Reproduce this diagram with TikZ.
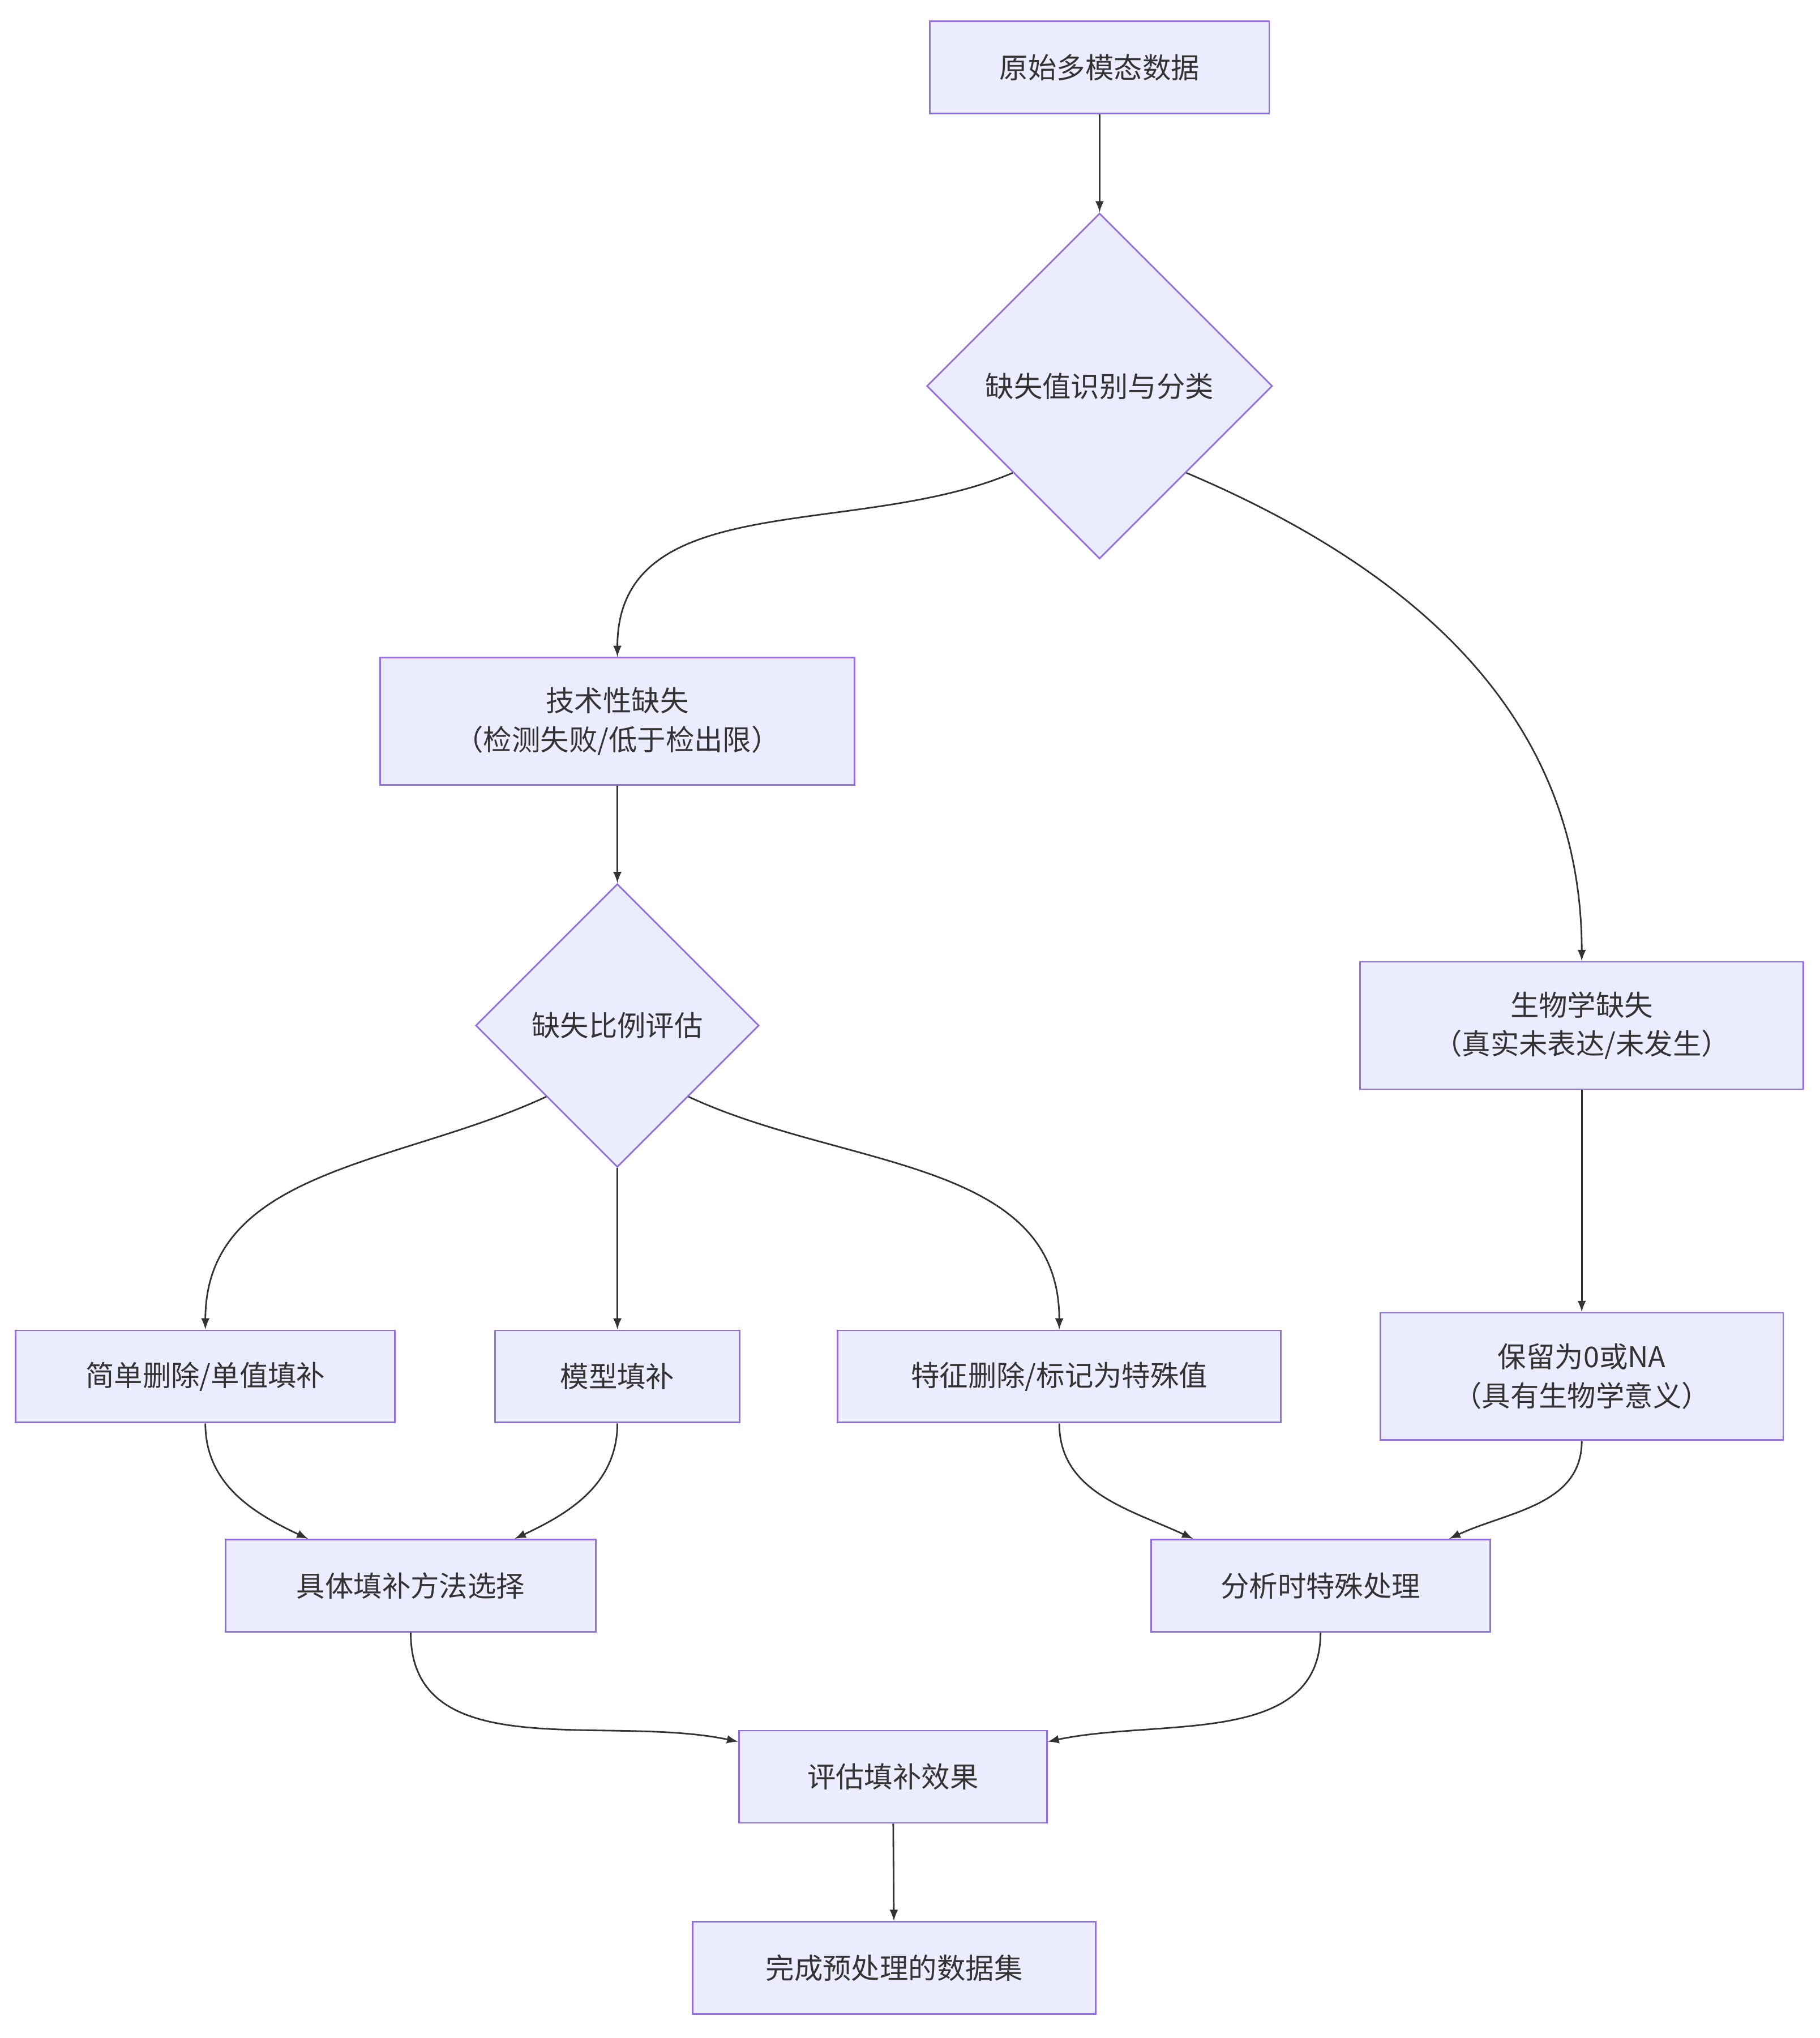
\documentclass[tikz,border=0pt]{standalone}
\usepackage{fontspec}
\setmainfont{Noto Sans CJK SC}
\usetikzlibrary{shapes.geometric}
\tikzset{
  box/.style={draw=violetline, fill=boxfill, line width=0.7pt, align=center,
    inner sep=0pt, font=\fontsize{12.5}{17}\selectfont, text=textgray},
  choice/.style={box, shape=diamond, aspect=1},
  flow/.style={-latex, draw=arrowgray, line width=0.7pt},
}
\definecolor{boxfill}{HTML}{ECECFF}
\definecolor{violetline}{HTML}{9370DB}
\definecolor{arrowgray}{HTML}{333333}
\definecolor{textgray}{HTML}{333333}

\begin{document}
\begin{tikzpicture}[x=0.02cm,y=-0.02cm]
		\useasboundingbox (0,0) rectangle (1400,1568);
		% nodes
		\node[box, minimum width=5.22cm, minimum height=1.42cm] (raw) at (846,52) {原始多模态数据};
		\node[choice, minimum width=5.32cm, minimum height=5.32cm] (classify) at (846,297) {缺失值识别与分类};
		\node[box, minimum width=7.30cm, minimum height=1.96cm] (tech) at (475,555) {技术性缺失\\（检测失败/低于检出限）};
		\node[choice, minimum width=4.36cm, minimum height=4.36cm] (ratio) at (475,789) {缺失比例评估};
		\node[box, minimum width=6.82cm, minimum height=1.96cm] (bio) at (1217,789) {生物学缺失\\（真实未表达/未发生）};
		\node[box, minimum width=5.84cm, minimum height=1.42cm] (simple) at (158,1059) {简单删除/单值填补};
		\node[box, minimum width=3.76cm, minimum height=1.42cm] (model) at (475,1059) {模型填补};
		\node[box, minimum width=6.82cm, minimum height=1.42cm] (feature) at (815,1059) {特征删除/标记为特殊值};
		\node[box, minimum width=6.20cm, minimum height=1.96cm] (keep) at (1217,1059) {保留为0或NA\\（具有生物学意义）};
		\node[box, minimum width=5.70cm, minimum height=1.42cm] (method) at (316,1220) {具体填补方法选择};
		\node[box, minimum width=5.22cm, minimum height=1.42cm] (special) at (1016,1220) {分析时特殊处理};
		\node[box, minimum width=4.74cm, minimum height=1.42cm] (evaluate) at (687,1367) {评估填补效果};
		\node[box, minimum width=6.20cm, minimum height=1.42cm] (done) at (688,1514) {完成预处理的数据集};
		% connectors
		\draw[flow] (raw) -- (classify);
		\draw[flow] (classify.south west) to[out=203,in=90] (tech.north);
		\draw[flow] (classify.south east) to[out=-23,in=90] (bio.north);
		\draw[flow] (tech) -- (ratio);
		\draw[flow] (ratio.south west) to[out=205,in=90] (simple.north);
		\draw[flow] (ratio) -- (model);
		\draw[flow] (ratio.south east) to[out=-25,in=90] (feature.north);
		\draw[flow] (bio) -- (keep);
		\draw[flow] (simple.south) to[out=-90,in=155] ([xshift=-1.58cm]method.north);
		\draw[flow] (model.south) to[out=-90,in=25] ([xshift=1.60cm]method.north);
		\draw[flow] (feature.south) to[out=-90,in=155] ([xshift=-1.96cm]special.north);
		\draw[flow] (keep.south) to[out=-90,in=25] ([xshift=1.98cm]special.north);
		\draw[flow] (method.south) to[out=-90,in=168] ([yshift=0.54cm]evaluate.west);
		\draw[flow] (special.south) to[out=-90,in=12] ([yshift=0.54cm]evaluate.east);
		\draw[flow] (evaluate) -- (done);
\end{tikzpicture}
\end{document}
